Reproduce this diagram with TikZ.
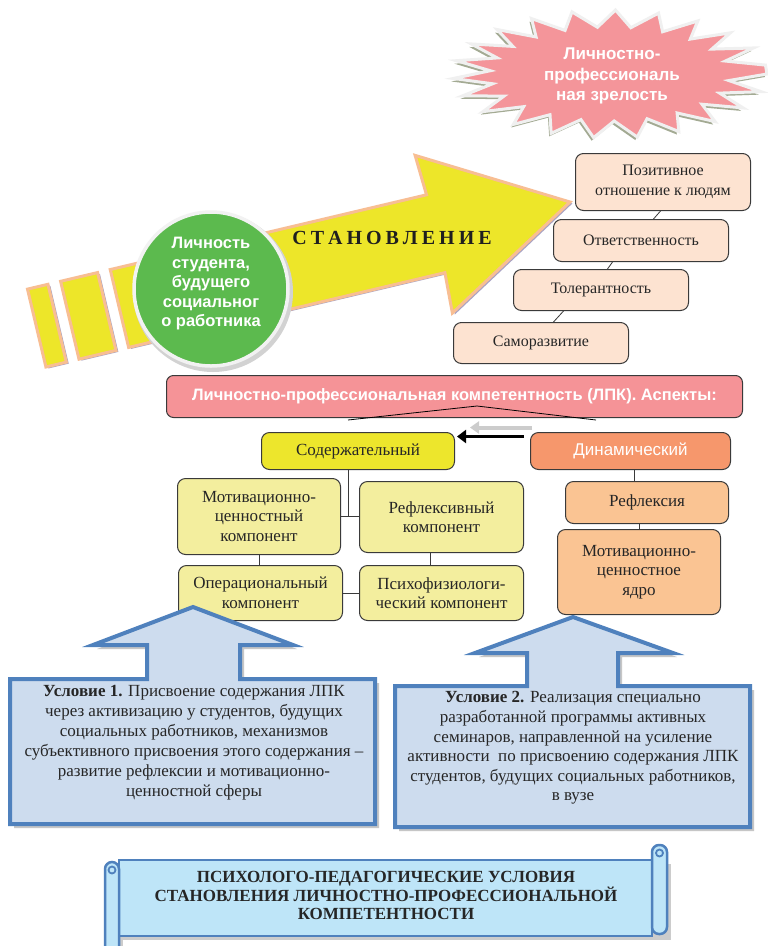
\documentclass[tikz,border=0pt]{standalone}
\usepackage{fontspec}
\setmainfont{Liberation Serif}
\setsansfont{Liberation Sans}
\usetikzlibrary{arrows.meta,calc}
\definecolor{arrowY}{HTML}{EDE629}
\definecolor{arrowO}{HTML}{F8BE93}
\definecolor{arrowS}{HTML}{A9A3C4}
\definecolor{circG}{HTML}{5CBA4E}
\definecolor{starP}{HTML}{F4959A}
\definecolor{starS}{HTML}{A3AA93}
\definecolor{peach}{HTML}{FDE3D1}
\definecolor{bannerP}{HTML}{F59397}
\definecolor{yelB}{HTML}{EDE62C}
\definecolor{dynO}{HTML}{F6976C}
\definecolor{paleY}{HTML}{F3EE9E}
\definecolor{lightO}{HTML}{FAC493}
\definecolor{callF}{HTML}{CDDCEE}
\definecolor{callB}{HTML}{4F81BD}
\definecolor{scrollF}{HTML}{BEE5F8}
\definecolor{txt}{HTML}{262626}
\definecolor{boxline}{HTML}{3A3A3A}
\begin{document}
\begin{tikzpicture}[x=1pt,y=-1pt,
  pbox/.style={draw=boxline, line width=1, rounded corners=8, fill=peach, text=txt, align=center, anchor=north west, inner sep=1, font=\fontsize{16}{20}\selectfont},
  ybox/.style={pbox, fill=paleY, font=\fontsize{17}{19.5}\selectfont},
  obox/.style={pbox, fill=lightO, font=\fontsize{17}{19.5}\selectfont},
  conn/.style={draw=boxline, line width=0.8},
  wtext/.style={text=white, align=center, font=\sffamily\bfseries\fontsize{17}{20.5}\selectfont},
  callout/.style={draw=callB, line width=4, fill=callF, line join=miter},
  calltext/.style={text=txt, align=center, font=\fontsize{17}{20}\selectfont},
  scrollpart/.style={fill=scrollF, draw=callB, line width=2.5}
]
\useasboundingbox (0,0) rectangle (768,946);
\fill[white] (0,0) rectangle (768,946);

% ---------- big arrow ----------
\begin{scope}[shift={(570,202)}, rotate=13.3]
  \fill[arrowS] (-461,-38) -- (-136,-38) -- (-138,-79) -- (2,2) -- (-138,83) -- (-136,42) -- (-461,42) -- cycle;
  \fill[arrowS] (-546,-38) rectangle (-525,42);
  \fill[arrowS] (-512,-38) rectangle (-474,42);
  \path[draw=arrowO, fill=arrowY, line width=3, line join=miter]
    (-463,-40) -- (-138,-40) -- (-140,-81) -- (0,0) -- (-140,81) -- (-138,40) -- (-463,40) -- cycle;
  \path[draw=arrowO, fill=arrowY, line width=3] (-548,-40) rectangle (-527,40);
  \path[draw=arrowO, fill=arrowY, line width=3] (-514,-40) rectangle (-476,40);
\end{scope}

\node[text=black!88, font=\bfseries\fontsize{20}{24}\selectfont] (stan) at (392,238)
  {С\kern4pt Т\kern4pt А\kern4pt Н\kern4pt О\kern4pt В\kern4pt Л\kern4pt Е\kern4pt Н\kern4pt И\kern4pt Е};

% ---------- circle ----------
\fill[gray!35] (213,292) circle (80pt);
\node[circle, fill=circG, draw=white!90!gray, line width=3.5, minimum size=154, inner sep=0] (circ) at (211,289) {};
\node[wtext, font=\sffamily\bfseries\fontsize{16.5}{19.5}\selectfont] (circT) at (211,284)
  {Личность\\студента,\\будущего\\социальног\\о работника};

% ---------- starburst ----------
\fill[starS] plot[variable=\t, samples at={0,8,...,352}]
  ({608+(138.5+18.5*cos(22.5*\t))*cos(\t)}, {77+(55.5+8.5*cos(22.5*\t))*sin(\t)}) -- cycle;
\path[fill=starP, draw=white!88!gray, line width=3, line join=miter, miter limit=20] plot[variable=\t, samples at={0,8,...,352}]
  ({610+(138.5+18.5*cos(22.5*\t))*cos(\t)}, {74+(55.5+8.5*cos(22.5*\t))*sin(\t)}) -- cycle;
\node[wtext] (starT) at (612,76) {Личностно-\\профессиональ\\ная зрелость};

% ---------- peach boxes ----------
\node[pbox, minimum width=175, minimum height=57] (b1) at (575,153) {Позитивное\\отношение к людям};
\node[pbox, minimum width=175, minimum height=42] (b2) at (553,219) {Ответственность};
\node[pbox, minimum width=175, minimum height=41] (b3) at (513,269) {Толерантность};
\node[pbox, minimum width=175, minimum height=41] (b4) at (453,322) {Саморазвитие};
\draw[conn] ([xshift=-2.5]b1.south) -- ([xshift=12.5]b2.north);
\draw[conn] ([xshift=-28.5]b2.south) -- ([xshift=6.5]b3.north);
\draw[conn] ([xshift=-37.5]b3.south) -- ([xshift=12.5]b4.north);

% ---------- banner ----------
\node[draw=boxline, line width=1, fill=bannerP, rounded corners=7, minimum width=576, minimum height=42, anchor=north west,
      text=white, font=\sffamily\bfseries\fontsize{16.5}{20}\selectfont] (banner) at (166,375)
  {Личностно-профессиональная компетентность (ЛПК). Аспекты:};
\coordinate (roofL) at (348,420);
\coordinate (roofP) at (477,406);
\coordinate (roofR) at (596,420);
\draw[black, line width=0.8] (roofL) -- (roofP) -- (roofR);

% ---------- aspects ----------
\node[pbox, fill=yelB, minimum width=193, minimum height=37, font=\fontsize{17}{20}\selectfont] (c) at (261,432) {Содержательный};
\node[pbox, fill=dynO, minimum width=200, minimum height=37, text=white, font=\sffamily\fontsize{17}{20}\selectfont] (d) at (530,432) {Динамический};
\draw[gray!40, line width=4, -{Triangle[length=9pt,width=12pt]}] ([xshift=2,yshift=23.5]d.west) -- ([xshift=15,yshift=23.5]c.east);
\draw[black, line width=3.5, -{Triangle[length=9pt,width=13pt]}] ([xshift=-6,yshift=14.5]d.west) -- ([xshift=2,yshift=14.5]c.east);

\node[ybox, minimum width=163, minimum height=76] (m) at (177,478) {Мотивационно-\\ценностный\\компонент};
\node[ybox, minimum width=164, minimum height=71] (r) at (359,481) {Рефлексивный\\компонент};
\node[ybox, minimum width=164, minimum height=55] (o) at (178,565) {Операциональный\\компонент};
\node[ybox, minimum width=164, minimum height=55] (p) at (359,565) {Психофизиологи-\\ческий компонент};
\draw[conn] ([xshift=-9.5]c.south) -- ([xshift=-9.5]c.south |- m.east);
\draw[conn] (m.east) -- (m.east -| r.west);
\draw[conn] (m.south) -- (m.south |- o.north);
\draw[conn] ([xshift=-11]r.south) -- ([xshift=-11]r.south |- p.north);
\draw[conn] (o.east) -- (o.east -| p.west);

\node[obox, minimum width=163, minimum height=42] (rf) at (565,481) {Рефлексия};
\node[obox, minimum width=163, minimum height=85] (yd) at (557,529) {Мотивационно-\\ценностное\\ядро};
\draw[conn] ([xshift=4]d.south) -- ([xshift=4]d.south |- rf.north);
\draw[conn] ([xshift=-7.5]rf.south) -- ([xshift=-7.5]rf.south |- yd.north);

% ---------- callouts ----------
\fill[gray!45] (14,683) -- (151,683) -- (151,649) -- (97,649) -- (197,611) -- (297,649) -- (244,649) -- (244,683) -- (379,683) -- (379,828) -- (14,828) -- cycle;
\path[callout] (10,679) -- (147,679) -- (147,645) -- (93,645) -- (193,607) -- (293,645) -- (240,645) -- (240,679) -- (375,679) -- (375,824) -- (10,824) -- cycle;
\node[calltext] (c1t) at (194,743)
  {\textbf{Условие 1.} Присвоение содержания ЛПК\\
   через активизацию у студентов, будущих\\
   социальных работников, механизмов\\
   субъективного присвоения этого содержания –\\
   развитие рефлексии и мотивационно-\\
   ценностной сферы};

\fill[gray!45] (399,690) -- (531,690) -- (531,657) -- (479,657) -- (577,621) -- (677,657) -- (622,657) -- (622,690) -- (754,690) -- (754,831) -- (399,831) -- cycle;
\path[callout] (395,686) -- (527,686) -- (527,653) -- (475,653) -- (573,617) -- (673,653) -- (618,653) -- (618,686) -- (750,686) -- (750,827) -- (395,827) -- cycle;
\node[calltext, font=\fontsize{17}{19.6}\selectfont] (c2t) at (573,748)
  {\textbf{Условие 2.} Реализация специально\\
   разработанной программы активных\\
   семинаров, направленной на усиление\\
   активности\ \ по присвоению содержания ЛПК\\
   студентов, будущих социальных работников,\\
   в вузе};

% ---------- scroll ----------
\fill[gray!40] (123,864) rectangle (671,940);
\fill[gray!40] (109,866) rectangle (123,952);
\path[scrollpart] (119,860) rectangle (652,936);
\path[scrollpart, rounded corners=7] (652,845) rectangle (667,934);
\draw[callB, line width=1.8] (659.5,853) circle (3.5pt);
\path[scrollpart, rounded corners=7] (105,862) rectangle (119,956);
\draw[callB, line width=1.8] (112,870) circle (3.5pt);
\node[text=txt, align=center, font=\bfseries\fontsize{17}{18}\selectfont] (scrollT) at (386,895)
  {ПСИХОЛОГО-ПЕДАГОГИЧЕСКИЕ УСЛОВИЯ\\
   СТАНОВЛЕНИЯ ЛИЧНОСТНО-ПРОФЕССИОНАЛЬНОЙ\\
   КОМПЕТЕНТНОСТИ};
\end{tikzpicture}
\end{document}
